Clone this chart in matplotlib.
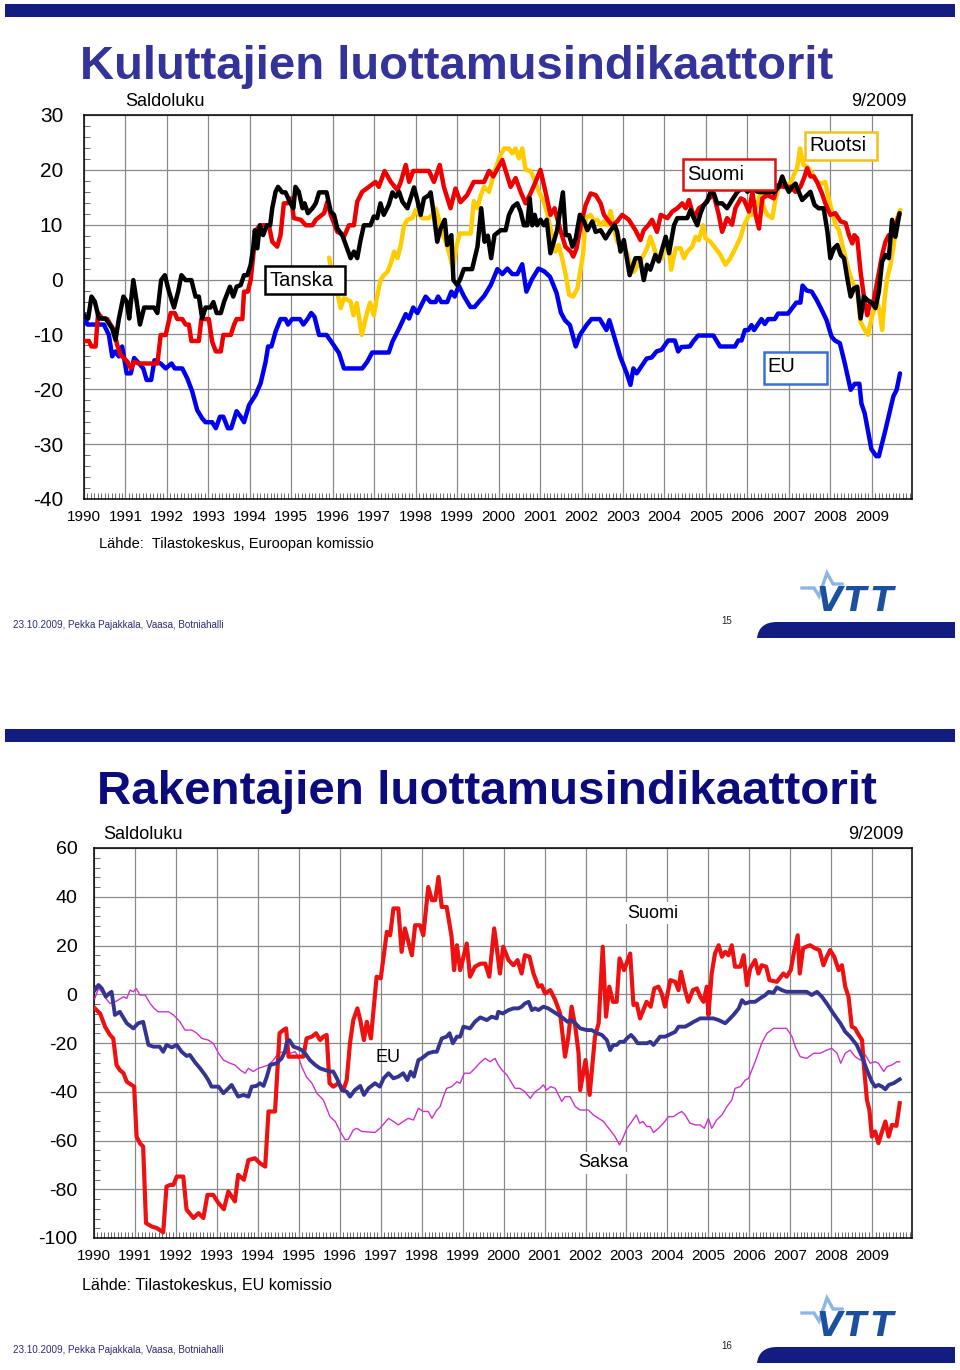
import matplotlib
matplotlib.use('Agg')
import matplotlib.pyplot as plt
from matplotlib.patches import Rectangle, PathPatch
from matplotlib.path import Path
from matplotlib.ticker import MultipleLocator
import numpy as np

plt.rcParams['font.family'] = ['Liberation Sans', 'DejaVu Sans']
plt.rcParams['axes.unicode_minus'] = False

# ---------------- DATA ----------------
years = list(range(1990, 2010))

# Kuluttajien luottamus (top chart)
fi_t = [1990.0,1990.12,1990.18,1990.28,1990.34,1990.44,1990.56,1990.64,1990.72,1990.8,1990.88,1991.05,1991.13,1991.21,1991.33,1991.77,1991.85,1991.97,1992.09,1992.19,1992.25,1992.37,1992.45,1992.53,1992.59,1992.77,1992.83,1993.01,1993.09,1993.18,1993.3,1993.36,1993.54,1993.62,1993.68,1993.82,1993.86,1993.95,1994.02,1994.1,1994.18,1994.26,1994.46,1994.54,1994.66,1994.74,1994.82,1994.9,1995.0,1995.06,1995.23,1995.35,1995.51,1995.59,1995.79,1995.87,1995.95,1996.11,1996.19,1996.27,1996.39,1996.51,1996.59,1996.71,1996.87,1997.03,1997.11,1997.25,1997.4,1997.56,1997.64,1997.76,1997.84,1997.94,1998.32,1998.44,1998.58,1998.68,1998.84,1998.96,1999.08,1999.24,1999.4,1999.65,1999.77,1999.87,2000.09,2000.29,2000.41,2000.53,2000.65,2000.77,2000.89,2001.01,2001.13,2001.25,2001.35,2001.49,2001.61,2001.74,2001.8,2001.88,2001.98,2002.1,2002.22,2002.34,2002.46,2002.54,2002.66,2002.74,2002.86,2002.98,2003.14,2003.3,2003.42,2003.5,2003.62,2003.7,2003.82,2003.91,2004.07,2004.19,2004.31,2004.43,2004.51,2004.59,2004.71,2004.83,2004.95,2005.07,2005.19,2005.31,2005.39,2005.51,2005.63,2005.71,2005.84,2005.92,2006.04,2006.12,2006.2,2006.28,2006.36,2006.48,2006.64,2006.72,2006.88,2007.04,2007.16,2007.28,2007.38,2007.44,2007.52,2007.6,2007.68,2007.8,2007.88,2008.0,2008.12,2008.25,2008.37,2008.45,2008.53,2008.58,2008.65,2008.73,2008.81,2008.89,2008.95,2009.05,2009.13,2009.25,2009.33,2009.41,2009.49,2009.58,2009.67]
fi_v = [-11.2,-11.2,-12.2,-12.2,-6.1,-7.1,-7.2,-8.2,-9.2,-11.9,-13.7,-15.0,-16.2,-15.0,-15.3,-15.3,-10.1,-10.1,-6.1,-6.1,-7.2,-7.2,-8.2,-8.2,-11.2,-11.2,-7.2,-7.2,-11.3,-13.1,-13.1,-10.1,-10.1,-8.2,-7.2,-7.2,-2.2,-2.2,-0.1,5.7,9.3,9.9,9.9,6.9,6.0,8.1,13.9,13.9,14.8,11.2,10.9,9.9,9.9,10.9,12.1,14.2,11.8,8.7,8.4,7.8,9.9,9.9,14.2,16.0,16.9,17.8,16.9,19.8,17.8,16.3,17.8,20.9,17.8,19.8,19.8,17.8,20.9,16.9,13.0,16.6,14.1,15.4,17.8,17.8,19.8,18.8,21.8,16.9,18.5,16.0,13.9,15.7,17.8,20.0,16.0,11.8,13.0,9.0,6.0,5.1,4.2,5.7,9.9,13.6,15.7,15.4,13.9,11.8,10.6,9.9,10.6,11.8,10.9,9.0,7.2,9.0,10.0,10.9,8.7,11.8,11.2,12.4,13.0,13.9,13.0,14.5,11.2,13.0,13.6,14.8,15.4,11.8,8.7,11.2,10.0,13.0,14.8,14.5,12.4,16.0,11.8,9.3,14.8,15.4,14.8,17.2,16.9,16.9,16.0,16.9,18.8,20.3,18.8,18.8,17.8,15.7,13.9,11.8,12.1,10.6,10.3,8.1,6.6,8.1,7.5,1.4,-3.1,-6.5,-4.6,-3.7,-0.4,4.5,6.9,8.1,8.1,10.0,12.0]

dk_t = [1990.0,1990.1,1990.18,1990.26,1990.36,1990.52,1990.6,1990.68,1990.76,1990.84,1990.95,1991.03,1991.09,1991.19,1991.27,1991.35,1991.45,1991.69,1991.77,1991.86,1991.95,1992.05,1992.17,1992.27,1992.35,1992.45,1992.59,1992.69,1992.77,1992.85,1992.93,1993.05,1993.12,1993.2,1993.3,1993.38,1993.52,1993.6,1993.68,1993.78,1993.86,1993.94,1994.02,1994.08,1994.12,1994.18,1994.24,1994.32,1994.41,1994.49,1994.54,1994.62,1994.68,1994.78,1994.86,1994.98,1995.05,1995.1,1995.18,1995.27,1995.32,1995.4,1995.51,1995.59,1995.67,1995.85,1995.95,1996.03,1996.11,1996.23,1996.33,1996.43,1996.51,1996.59,1996.67,1996.75,1996.91,1996.99,1997.07,1997.15,1997.23,1997.35,1997.44,1997.52,1997.6,1997.68,1997.8,1997.96,1998.04,1998.12,1998.2,1998.32,1998.36,1998.44,1998.52,1998.6,1998.7,1998.76,1998.86,1998.91,1999.0,1999.08,1999.16,1999.36,1999.49,1999.58,1999.66,1999.74,1999.82,1999.9,2000.05,2000.17,2000.25,2000.35,2000.45,2000.53,2000.61,2000.69,2000.75,2000.81,2000.87,2000.93,2001.01,2001.09,2001.16,2001.25,2001.33,2001.41,2001.49,2001.55,2001.62,2001.7,2001.78,2001.86,2001.96,2002.06,2002.14,2002.26,2002.34,2002.46,2002.58,2002.7,2002.8,2002.86,2002.94,2003.02,2003.16,2003.3,2003.41,2003.5,2003.58,2003.66,2003.78,2003.86,2003.95,2004.03,2004.11,2004.23,2004.31,2004.55,2004.63,2004.71,2004.79,2004.87,2004.95,2005.03,2005.11,2005.19,2005.27,2005.39,2005.51,2005.63,2005.76,2005.92,2006.0,2006.12,2006.24,2006.4,2006.52,2006.64,2006.76,2006.84,2006.92,2007.0,2007.08,2007.16,2007.24,2007.32,2007.44,2007.52,2007.62,2007.72,2007.84,2007.93,2008.0,2008.09,2008.17,2008.25,2008.33,2008.41,2008.49,2008.57,2008.65,2008.73,2008.81,2008.89,2009.01,2009.09,2009.17,2009.25,2009.33,2009.41,2009.49,2009.57,2009.67]
dk_v = [-6.5,-7.1,-3.1,-4.0,-7.1,-7.1,-8.0,-8.9,-11.0,-7.2,-3.1,-4.0,-7.1,-0.1,-4.0,-8.2,-5.1,-5.1,-6.1,-0.1,0.8,-2.2,-5.1,-2.2,0.8,-0.1,-0.1,-3.1,-3.1,-7.1,-5.1,-5.1,-4.1,-6.1,-6.1,-4.0,-1.3,-3.1,-1.3,-1.0,0.8,0.8,2.7,5.7,9.0,5.7,9.9,8.1,9.9,9.9,13.0,16.0,16.9,15.9,15.9,13.9,13.0,16.9,16.0,13.0,13.9,12.1,13.0,13.9,15.9,15.9,12.4,11.8,9.3,8.1,6.0,3.9,5.1,3.9,7.2,9.9,9.9,11.5,11.2,13.9,11.8,13.6,15.9,15.1,16.0,14.2,13.0,16.8,14.5,11.8,14.8,15.4,15.9,11.8,6.9,9.3,10.9,6.3,8.1,-0.1,-1.0,0.2,1.9,1.9,6.0,13.0,6.9,8.0,3.9,8.1,9.0,9.0,11.8,13.3,13.9,12.4,9.9,9.9,14.8,9.9,11.8,9.9,10.9,9.9,10.9,4.8,6.9,9.0,13.0,15.9,8.1,8.1,6.0,7.5,11.8,10.6,9.0,10.6,8.7,9.0,7.5,9.0,9.9,8.7,5.1,7.2,0.8,3.9,3.9,-0.1,2.7,1.8,4.5,3.3,5.7,7.8,4.8,9.9,11.2,11.2,12.7,11.2,9.9,12.1,13.6,14.2,16.0,15.7,13.9,13.9,13.0,14.5,16.0,16.9,16.0,16.8,16.0,15.9,16.0,15.9,16.9,18.8,17.2,16.0,16.9,17.5,16.0,14.5,15.4,16.0,13.6,13.0,13.0,8.7,3.9,5.7,6.3,4.5,3.9,0.2,-3.1,-1.6,-1.3,-7.1,-3.1,-3.7,-4.3,-5.2,-2.2,3.3,4.5,3.9,10.9,7.8,12.1]

se_t = [1995.91,1995.96,1996.03,1996.13,1996.19,1996.27,1996.43,1996.5,1996.58,1996.7,1996.82,1996.9,1996.99,1997.07,1997.15,1997.23,1997.32,1997.4,1997.48,1997.56,1997.64,1997.72,1997.8,1997.92,1998.0,1998.08,1998.16,1998.32,1998.4,1998.48,1998.56,1998.64,1998.72,1998.8,1998.9,1998.98,1999.06,1999.33,1999.4,1999.49,1999.57,1999.65,1999.77,1999.89,2000.01,2000.13,2000.25,2000.33,2000.41,2000.49,2000.57,2000.65,2000.77,2000.85,2000.97,2001.09,2001.17,2001.25,2001.37,2001.45,2001.53,2001.62,2001.7,2001.8,2001.9,2001.98,2002.04,2002.1,2002.22,2002.3,2002.38,2002.46,2002.54,2002.62,2002.7,2002.78,2002.86,2002.98,2003.1,2003.18,2003.26,2003.38,2003.5,2003.58,2003.66,2003.74,2003.82,2003.95,2004.03,2004.11,2004.16,2004.27,2004.39,2004.47,2004.55,2004.67,2004.75,2004.83,2004.93,2004.99,2005.11,2005.23,2005.35,2005.47,2005.59,2005.71,2005.84,2005.92,2006.04,2006.12,2006.24,2006.32,2006.4,2006.48,2006.6,2006.68,2006.76,2006.88,2007.04,2007.12,2007.2,2007.27,2007.35,2007.44,2007.56,2007.68,2007.8,2007.88,2007.96,2008.05,2008.13,2008.21,2008.29,2008.37,2008.45,2008.53,2008.65,2008.73,2008.81,2008.91,2009.01,2009.13,2009.19,2009.25,2009.31,2009.37,2009.45,2009.53,2009.61,2009.69]
se_v = [4.0,2.1,-1.0,-3.1,-5.2,-3.4,-4.0,-6.5,-4.3,-10.1,-6.2,-4.2,-6.5,-3.1,-0.1,0.8,1.4,3.0,5.1,3.9,6.3,9.9,10.9,11.2,12.7,11.8,11.2,11.2,11.8,13.0,11.0,8.5,7.0,5.0,2.0,6.0,8.4,8.4,14.3,13.0,15.4,16.9,16.0,19.4,22.1,23.9,23.9,23.0,23.9,22.1,23.9,20.0,19.8,18.5,16.0,14.2,12.1,9.3,5.1,6.3,3.9,0.8,-2.8,-3.1,-1.6,2.1,4.8,11.2,11.8,10.6,10.9,9.9,10.6,9.9,12.5,9.3,6.9,5.7,4.8,2.5,1.4,3.0,4.5,5.7,7.8,6.0,3.9,3.9,7.5,5.7,1.8,5.7,5.7,3.9,5.1,6.0,7.8,7.2,9.9,7.5,6.9,5.7,4.5,2.7,3.9,5.7,7.8,9.9,11.8,11.8,13.6,16.0,13.0,11.8,11.2,14.8,16.9,17.2,17.5,19.1,20.3,23.9,20.9,20.6,19.4,17.8,17.5,17.8,14.8,12.1,9.9,9.0,6.3,3.9,1.4,-0.4,-2.2,-7.7,-8.9,-10.1,-6.5,-4.0,-5.8,-9.2,-3.4,0.2,2.7,6.3,11.2,12.7]

eu_t = [1990.0,1990.08,1990.48,1990.6,1990.68,1990.76,1990.84,1990.92,1991.03,1991.13,1991.21,1991.33,1991.43,1991.51,1991.62,1991.7,1991.85,1991.97,1992.11,1992.19,1992.37,1992.49,1992.61,1992.73,1992.85,1992.93,1993.09,1993.18,1993.28,1993.36,1993.47,1993.55,1993.68,1993.78,1993.86,1993.98,1994.14,1994.26,1994.38,1994.44,1994.52,1994.62,1994.74,1994.86,1994.92,1995.02,1995.21,1995.29,1995.39,1995.48,1995.56,1995.67,1995.85,1995.99,1996.15,1996.27,1996.71,1996.83,1996.95,1997.35,1997.44,1997.6,1997.76,1997.84,1997.94,1998.04,1998.24,1998.36,1998.48,1998.54,1998.62,1998.76,1998.86,1998.94,1999.04,1999.16,1999.32,1999.42,1999.53,1999.65,1999.81,1999.97,2000.09,2000.21,2000.33,2000.45,2000.57,2000.67,2000.8,2000.96,2001.1,2001.24,2001.4,2001.5,2001.6,2001.72,2001.86,2001.96,2002.12,2002.24,2002.44,2002.6,2002.67,2002.8,2002.93,2003.09,2003.18,2003.25,2003.33,2003.57,2003.69,2003.81,2003.93,2004.09,2004.25,2004.33,2004.41,2004.61,2004.69,2004.81,2005.18,2005.34,2005.7,2005.78,2005.86,2005.94,2006.02,2006.1,2006.16,2006.34,2006.42,2006.5,2006.66,2006.74,2006.98,2007.18,2007.28,2007.33,2007.43,2007.55,2007.67,2007.79,2007.91,2008.03,2008.11,2008.23,2008.35,2008.49,2008.59,2008.7,2008.75,2008.83,2008.99,2009.11,2009.17,2009.32,2009.52,2009.6,2009.68]
eu_v = [-6.3,-8.2,-8.2,-10.1,-14.0,-13.1,-14.0,-12.2,-17.1,-17.1,-14.3,-15.3,-16.2,-18.3,-18.3,-14.7,-15.3,-16.2,-15.3,-16.2,-16.2,-18.0,-20.4,-23.8,-25.3,-26.0,-26.0,-27.1,-25.0,-25.0,-27.1,-27.1,-24.0,-25.0,-26.0,-22.9,-21.0,-18.9,-15.0,-12.2,-12.2,-9.5,-7.2,-7.2,-8.2,-7.2,-7.2,-8.2,-7.2,-6.1,-6.8,-10.1,-10.1,-11.6,-13.4,-16.2,-16.2,-15.0,-13.3,-13.3,-11.3,-8.9,-6.3,-7.1,-5.1,-6.1,-3.1,-4.1,-4.1,-3.1,-4.1,-4.1,-2.2,-3.1,-1.1,-3.0,-5.0,-5.0,-4.0,-3.0,-1.0,1.9,1.0,2.0,1.0,1.0,2.8,-2.2,0.0,2.0,1.5,0.5,-2.5,-6.0,-7.4,-8.3,-12.2,-10.1,-8.3,-7.2,-7.2,-9.2,-7.4,-10.7,-14.0,-17.1,-19.2,-16.2,-17.1,-14.4,-14.2,-13.1,-12.8,-11.1,-11.1,-13.1,-12.3,-12.2,-11.3,-10.2,-10.2,-12.2,-12.2,-11.1,-11.1,-9.2,-9.2,-8.3,-9.2,-7.2,-8.1,-7.2,-7.2,-6.2,-6.2,-4.2,-4.2,-1.1,-2.0,-2.2,-3.7,-5.5,-7.4,-10.4,-11.1,-11.6,-15.3,-20.1,-19.0,-19.0,-22.6,-24.4,-30.9,-32.2,-32.2,-27.7,-21.3,-20.1,-17.1]

# Rakentajien luottamus (bottom chart)
bfi_t = [1990.02,1990.15,1990.27,1990.39,1990.47,1990.55,1990.63,1990.72,1990.8,1990.92,1990.98,1991.04,1991.12,1991.2,1991.27,1991.41,1991.53,1991.69,1991.77,1991.86,1991.94,1992.02,1992.18,1992.26,1992.43,1992.55,1992.67,1992.77,1992.91,1993.04,1993.17,1993.28,1993.44,1993.52,1993.66,1993.77,1993.93,1994.05,1994.18,1994.26,1994.42,1994.53,1994.62,1994.69,1994.75,1995.11,1995.19,1995.32,1995.42,1995.52,1995.6,1995.68,1995.75,1995.84,1995.97,1996.09,1996.17,1996.25,1996.33,1996.43,1996.5,1996.59,1996.66,1996.76,1996.9,1997.0,1997.15,1997.23,1997.31,1997.43,1997.51,1997.59,1997.76,1997.84,1997.96,1998.04,1998.16,1998.25,1998.33,1998.41,1998.49,1998.61,1998.73,1998.79,1998.86,1998.94,1999.1,1999.18,1999.3,1999.43,1999.55,1999.65,1999.77,1999.83,1999.91,1999.99,2000.12,2000.24,2000.34,2000.44,2000.52,2000.63,2000.73,2000.85,2000.93,2001.01,2001.14,2001.26,2001.38,2001.5,2001.58,2001.66,2001.75,2001.83,2001.87,2002.0,2002.1,2002.23,2002.32,2002.42,2002.5,2002.58,2002.67,2002.76,2002.83,2002.94,2003.09,2003.17,2003.25,2003.33,2003.41,2003.49,2003.59,2003.68,2003.78,2003.86,2003.94,2004.07,2004.19,2004.27,2004.33,2004.43,2004.51,2004.62,2004.72,2004.8,2004.88,2004.96,2005.0,2005.08,2005.16,2005.25,2005.33,2005.41,2005.49,2005.57,2005.65,2005.78,2005.86,2005.94,2006.02,2006.14,2006.22,2006.3,2006.41,2006.49,2006.67,2006.83,2006.91,2007.01,2007.09,2007.18,2007.23,2007.31,2007.39,2007.48,2007.61,2007.71,2007.81,2007.89,2007.97,2008.07,2008.18,2008.26,2008.34,2008.42,2008.5,2008.58,2008.67,2008.75,2008.79,2008.87,2008.93,2008.99,2009.07,2009.15,2009.24,2009.32,2009.4,2009.48,2009.59,2009.67]
bfi_v = [-5.8,-7.9,-13.3,-16.7,-18.1,-29.0,-31.1,-32.4,-35.9,-37.2,-37.9,-58.4,-61.1,-62.5,-93.9,-95.3,-95.9,-97.7,-78.9,-78.2,-78.2,-74.8,-74.8,-88.4,-91.8,-89.8,-91.8,-82.3,-82.3,-85.7,-88.2,-80.9,-85.0,-74.1,-76.1,-68.0,-67.3,-69.3,-70.7,-48.1,-48.1,-16.0,-14.7,-14.0,-25.6,-25.6,-18.1,-17.4,-16.0,-18.8,-17.4,-16.7,-36.5,-37.9,-36.5,-39.3,-35.2,-20.0,-10.6,-5.8,-10.6,-18.8,-11.3,-18.1,7.2,6.5,25.6,24.2,35.2,35.2,17.4,27.0,16.0,28.3,28.3,24.2,44.0,38.6,38.6,48.1,35.8,35.8,23.6,9.9,20.1,9.9,20.8,7.2,11.3,12.5,12.6,7.2,27.0,19.5,8.5,19.5,14.0,11.9,14.0,8.5,16.0,15.4,8.5,3.1,3.7,0.3,1.7,-2.4,-7.9,-25.6,-17.4,-5.1,-13.3,-24.2,-39.3,-27.0,-41.3,-17.4,-11.9,19.5,-9.2,3.1,-3.1,-3.1,14.7,9.9,16.7,-4.4,-3.8,-9.9,-6.5,-3.1,-5.1,2.4,3.1,0.3,-5.1,5.8,5.1,1.7,9.2,1.7,-3.1,1.7,2.4,-1.0,-3.1,3.1,-8.5,8.5,16.7,20.1,15.4,17.4,16.0,20.1,11.3,11.3,16.0,3.7,10.6,14.0,8.5,11.9,11.3,5.8,5.1,8.5,7.2,9.9,17.4,24.2,8.5,18.8,19.5,20.1,18.8,18.1,11.9,15.4,18.1,15.4,9.9,11.9,3.1,-1.0,-13.3,-14.0,-16.7,-18.8,-28.3,-43.4,-47.5,-58.4,-56.3,-61.1,-56.3,-52.2,-58.4,-53.6,-54.0,-44.7]

beu_t = [1990.02,1990.11,1990.19,1990.29,1990.37,1990.43,1990.51,1990.63,1990.8,1990.96,1991.08,1991.2,1991.33,1991.45,1991.6,1991.69,1991.77,1991.9,1992.02,1992.14,1992.26,1992.34,1992.47,1992.59,1992.71,1992.79,1992.87,1993.04,1993.16,1993.28,1993.36,1993.52,1993.65,1993.77,1993.85,1993.97,1994.05,1994.14,1994.22,1994.3,1994.46,1994.58,1994.66,1994.7,1994.77,1994.87,1994.99,1995.07,1995.15,1995.27,1995.4,1995.52,1995.64,1995.76,1995.84,1995.93,1996.05,1996.17,1996.25,1996.37,1996.5,1996.59,1996.7,1996.86,1996.98,1997.07,1997.19,1997.31,1997.43,1997.55,1997.65,1997.73,1997.81,1997.92,1998.0,1998.16,1998.29,1998.37,1998.49,1998.61,1998.68,1998.76,1998.86,1998.94,1999.02,1999.18,1999.3,1999.43,1999.59,1999.71,1999.83,1999.87,1999.98,2000.12,2000.24,2000.36,2000.44,2000.52,2000.61,2000.69,2000.77,2000.85,2000.97,2001.09,2001.22,2001.34,2001.46,2001.56,2001.64,2001.75,2001.87,2002.03,2002.15,2002.28,2002.4,2002.52,2002.6,2002.68,2002.76,2002.84,2002.94,2003.01,2003.11,2003.19,2003.27,2003.5,2003.58,2003.66,2003.82,2003.94,2004.03,2004.19,2004.27,2004.43,2004.51,2004.64,2004.8,2005.12,2005.25,2005.41,2005.49,2005.61,2005.74,2005.82,2005.9,2006.02,2006.14,2006.26,2006.39,2006.47,2006.59,2006.67,2006.79,2006.91,2007.4,2007.52,2007.65,2007.77,2007.89,2008.05,2008.22,2008.34,2008.46,2008.62,2008.75,2008.87,2008.99,2009.07,2009.15,2009.24,2009.32,2009.4,2009.52,2009.67]
beu_v = [1.7,3.8,2.4,-1.0,0.3,1.0,-8.5,-7.2,-11.9,-14.0,-11.9,-11.3,-20.8,-21.5,-21.5,-23.6,-20.8,-21.8,-20.8,-23.6,-25.3,-24.9,-28.0,-30.4,-33.1,-35.2,-37.9,-37.9,-40.6,-38.6,-37.2,-42.0,-41.3,-42.0,-37.9,-37.6,-36.5,-37.6,-33.8,-29.0,-28.3,-26.3,-23.6,-20.1,-18.8,-21.5,-22.2,-22.9,-24.2,-27.0,-29.0,-30.4,-31.1,-31.7,-31.7,-34.5,-39.3,-40.0,-42.0,-39.3,-37.6,-41.3,-38.6,-36.5,-37.9,-34.5,-32.4,-34.5,-33.8,-32.4,-35.2,-31.8,-33.8,-27.0,-26.3,-24.2,-23.6,-23.6,-18.1,-17.4,-16.0,-20.1,-17.4,-17.4,-13.3,-14.0,-11.3,-9.5,-10.6,-9.2,-9.9,-7.2,-7.9,-6.5,-5.8,-5.8,-5.1,-3.8,-3.1,-6.5,-5.8,-6.5,-5.1,-5.8,-7.2,-8.5,-9.9,-11.3,-10.6,-11.9,-14.0,-14.7,-14.7,-16.0,-16.7,-18.8,-22.9,-20.8,-20.8,-19.5,-19.5,-18.1,-16.7,-18.1,-20.1,-20.1,-19.5,-20.8,-17.4,-17.4,-16.7,-15.4,-13.3,-13.3,-12.6,-11.3,-9.9,-9.9,-10.6,-11.9,-10.6,-8.5,-5.8,-2.4,-3.8,-3.1,-3.1,-1.7,-0.3,1.0,0.6,2.8,1.7,1.0,1.0,-0.3,1.0,-1.0,-3.8,-7.9,-11.9,-15.4,-17.4,-20.8,-25.6,-31.1,-35.9,-37.9,-37.2,-37.9,-39.0,-37.2,-36.5,-34.9]

de_t = [1990.02,1990.11,1990.19,1990.29,1990.39,1990.51,1990.59,1990.72,1990.8,1990.88,1990.96,1991.03,1991.12,1991.25,1991.37,1991.47,1991.57,1991.82,1991.94,1992.1,1992.22,1992.39,1992.51,1992.63,1992.79,1992.91,1993.04,1993.16,1993.32,1993.44,1993.57,1993.69,1993.77,1993.89,1994.01,1994.14,1994.26,1994.38,1994.5,1994.62,1994.79,1994.91,1994.99,1995.07,1995.19,1995.32,1995.44,1995.6,1995.76,1995.89,1996.01,1996.13,1996.21,1996.33,1996.41,1996.54,1996.86,1996.98,1997.19,1997.31,1997.43,1997.55,1997.67,1997.8,1997.92,1998.04,1998.16,1998.25,1998.37,1998.45,1998.53,1998.61,1998.73,1998.86,1998.94,1999.04,1999.18,1999.3,1999.43,1999.55,1999.67,1999.79,1999.87,1999.96,2000.08,2000.2,2000.28,2000.4,2000.52,2000.65,2000.77,2000.89,2000.97,2001.05,2001.15,2001.26,2001.42,2001.5,2001.62,2001.75,2001.87,2002.07,2002.19,2002.32,2002.44,2002.5,2002.6,2002.72,2002.83,2002.91,2003.01,2003.13,2003.24,2003.32,2003.4,2003.5,2003.58,2003.66,2003.78,2003.9,2004.03,2004.15,2004.27,2004.35,2004.43,2004.55,2004.68,2004.8,2004.9,2005.0,2005.08,2005.2,2005.33,2005.45,2005.57,2005.65,2005.78,2005.9,2005.98,2006.06,2006.14,2006.22,2006.3,2006.43,2006.59,2006.91,2007.04,2007.12,2007.24,2007.4,2007.57,2007.73,2007.89,2008.01,2008.14,2008.23,2008.34,2008.46,2008.58,2008.71,2008.83,2008.95,2009.07,2009.15,2009.28,2009.36,2009.48,2009.6,2009.67]
de_v = [-1.7,2.4,1.0,-1.7,-3.8,-3.1,-2.4,-1.0,-1.7,1.7,1.0,2.4,-0.3,-0.3,-3.8,-5.8,-7.2,-7.2,-8.5,-11.3,-14.7,-14.7,-16.0,-18.1,-18.8,-20.1,-24.2,-27.0,-28.3,-29.0,-31.1,-32.4,-30.4,-31.7,-30.4,-29.7,-29.0,-27.0,-24.2,-23.6,-24.2,-23.6,-25.6,-29.7,-34.0,-36.5,-40.6,-43.4,-50.2,-52.2,-56.3,-59.7,-59.5,-55.7,-55.0,-56.3,-56.7,-55.0,-50.9,-52.2,-53.6,-52.2,-50.9,-51.6,-46.8,-48.1,-48.1,-50.9,-47.5,-46.1,-42.0,-38.6,-37.9,-35.9,-36.5,-32.4,-32.4,-30.4,-28.0,-26.3,-27.7,-26.3,-29.0,-31.1,-33.1,-36.5,-38.6,-38.6,-40.0,-42.7,-40.0,-38.6,-37.2,-39.3,-37.9,-38.6,-44.0,-42.0,-42.0,-46.1,-47.5,-47.5,-49.5,-50.9,-52.2,-53.6,-55.7,-58.4,-61.8,-59.1,-55.0,-52.2,-49.5,-52.9,-52.2,-54.3,-54.3,-56.7,-55.0,-52.9,-50.2,-50.2,-48.8,-48.1,-49.5,-52.9,-53.6,-53.6,-55.0,-50.9,-55.0,-51.6,-49.5,-46.1,-43.4,-38.6,-37.9,-35.2,-34.5,-31.1,-27.7,-24.0,-20.1,-16.0,-14.0,-14.0,-17.4,-21.5,-25.6,-26.3,-24.2,-24.2,-22.9,-22.2,-24.2,-28.3,-24.2,-22.9,-25.6,-27.0,-24.9,-28.3,-27.7,-28.3,-31.7,-29.7,-29.0,-27.7,-27.7]

# ---------------- FIGURE ----------------
W, H = 960, 1370
fig = plt.figure(figsize=(W / 100, H / 100), dpi=100)
deco = fig.add_axes([0, 0, 1, 1], zorder=0)
deco.set_xlim(0, W)
deco.set_ylim(H, 0)
deco.axis('off')

NAVY = '#131c80'


def px(l, t, r, b):
    return [l / W, 1 - b / H, (r - l) / W, (b - t) / H]


def slide_deco(dy, page):
    deco.add_patch(Rectangle((5, 4 + dy), 950, 13, color=NAVY, lw=0))
    deco.text(13, 628 + dy, '23.10.2009, Pekka Pajakkala, Vaasa, Botniahalli',
              fontsize=7.1, color='#2c2c70', va='baseline', ha='left')
    deco.text(727, 624 + dy, page, fontsize=7, color='#222222', va='baseline', ha='center')
    # swoosh bar
    verts = [(757, 638 + dy), (759, 622 + dy), (777, 622 + dy), (955, 622 + dy),
             (955, 638 + dy), (757, 638 + dy)]
    codes = [Path.MOVETO, Path.CURVE3, Path.CURVE3, Path.LINETO, Path.LINETO, Path.CLOSEPOLY]
    deco.add_patch(PathPatch(Path(verts, codes), color=NAVY, lw=0))
    # VTT logo: pulse + letters
    deco.plot([802, 814, 819, 827, 833, 842], [588 + dy, 588 + dy, 596 + dy, 573 + dy, 584 + dy, 584 + dy],
              color='#8db6e2', lw=2.4, solid_joinstyle='miter')
    for xx, ch in [(816, 'V'), (843, 'T'), (870, 'T')]:
        deco.text(xx, 611 + dy, ch, fontsize=24, fontweight='bold', fontstyle='oblique',
                  family='DejaVu Sans', color='#1c4f9e', va='baseline', ha='left')


slide_deco(0, '15')
slide_deco(725, '16')

# titles and headers
deco.text(80, 79, 'Kuluttajien luottamusindikaattorit', fontsize=34, fontweight='bold',
          color='#333399', va='baseline', ha='left')
deco.text(97, 804, 'Rakentajien luottamusindikaattorit', fontsize=34.2, fontweight='bold',
          color='#0b0b7d', va='baseline', ha='left')
deco.text(125, 106, 'Saldoluku', fontsize=13, va='baseline', ha='left')
deco.text(907, 106, '9/2009', fontsize=13, va='baseline', ha='right')
deco.text(103, 839, 'Saldoluku', fontsize=13, va='baseline', ha='left')
deco.text(904, 839, '9/2009', fontsize=13, va='baseline', ha='right')
deco.text(99, 548, 'Lähde:  Tilastokeskus, Euroopan komissio', fontsize=10.5, va='baseline', ha='left')
deco.text(82, 1290, 'Lähde: Tilastokeskus, EU komissio', fontsize=11.6, va='baseline', ha='left')


def style(ax, ylo, yhi, ystep, yminor, fs_y, ypad):
    ax.set_xlim(1990, 2009.97)
    ax.set_ylim(ylo, yhi)
    ax.set_xticks(years)
    ax.set_xticklabels([str(y) for y in years], fontsize=11)
    yt = list(range(ylo, yhi + 1, ystep))
    ax.set_yticks(yt)
    ax.set_yticklabels([str(v) for v in yt], fontsize=fs_y)
    ax.xaxis.set_minor_locator(MultipleLocator(1 / 12))
    ax.yaxis.set_minor_locator(MultipleLocator(yminor))
    ax.tick_params(axis='x', which='major', length=0, pad=8)
    ax.tick_params(axis='y', which='major', length=0, pad=ypad)
    ax.tick_params(which='minor', direction='in', length=4.5, width=0.6, color='#555555')
    ax.tick_params(top=False, right=False)
    ax.grid(True, which='major', color='#8a8a8a', lw=0.9)
    ax.set_axisbelow(True)
    for s in ax.spines.values():
        s.set_color('black')
        s.set_linewidth(1.1)


ax1 = fig.add_axes(px(84, 115, 912, 499), zorder=1)
style(ax1, -40, 30, 10, 2, 15, 15)
kw = dict(lw=3.2, solid_joinstyle='round', solid_capstyle='round')
ax1.plot(eu_t, eu_v, color='#0000ee', zorder=3, **kw)
ax1.plot(se_t, se_v, color='#ffcc00', zorder=3.2, **kw)
ax1.plot(fi_t, fi_v, color='#ee0000', zorder=3.4, **kw)
ax1.plot(dk_t, dk_v, color='black', zorder=3.6, **kw)


def label_box(ax, x0, x1, y0, y1, tx, ty, text, ec):
    ax.add_patch(Rectangle((x0, y0), x1 - x0, y1 - y0, facecolor='white', edgecolor=ec,
                           lw=1.8, zorder=5))
    ax.text(tx, ty, text, fontsize=14.5, ha='left', va='center', zorder=6)


label_box(ax1, 1994.37, 1996.29, -2.63, 2.48, 1994.47, -0.1, 'Tanska', 'black')
label_box(ax1, 2004.44, 2006.66, 16.33, 21.98, 2004.54, 19.2, 'Suomi', '#dd1111')
label_box(ax1, 2007.39, 2009.12, 21.8, 26.9, 2007.5, 24.35, 'Ruotsi', '#f2c21a')
label_box(ax1, 2006.4, 2007.92, -19.03, -13.2, 2006.49, -15.8, 'EU', '#3a6fd8')

ax2 = fig.add_axes(px(94, 848, 912, 1238), zorder=1)
style(ax2, -100, 60, 20, 4, 14, 12)
ax2.plot(de_t, de_v, color='#cc33cc', lw=1.0, zorder=3)
ax2.plot(bfi_t, bfi_v, color='#ee1111', lw=3.0, solid_joinstyle='round', zorder=3.2)
ax2.plot(beu_t, beu_v, color='#35358f', lw=2.8, solid_joinstyle='round', zorder=3.4)
bb = dict(facecolor='white', edgecolor='none', pad=1.5)
ax2.text(2003.63, 33.3, 'Suomi', fontsize=13, ha='center', va='center', bbox=bb, zorder=6)
ax2.text(1997.18, -25.8, 'EU', fontsize=13, ha='center', va='center', zorder=6)
ax2.text(2002.43, -69.2, 'Saksa', fontsize=13, ha='center', va='center', bbox=bb, zorder=6)

fig.savefig('out.png', dpi=100)
